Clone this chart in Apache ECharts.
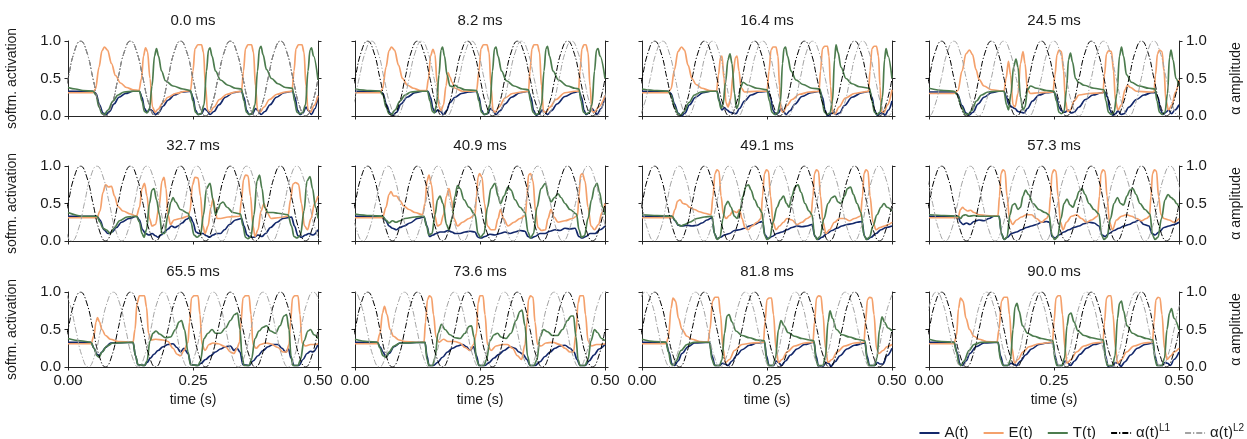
<!DOCTYPE html>
<html><head><meta charset="utf-8">
<script src="https://cdn.jsdelivr.net/npm/echarts/dist/echarts.min.js"></script>
<style>html,body{margin:0;padding:0;background:#fff}#c{width:1247px;height:439px}</style>
</head><body><div id="c"></div>
<script>
// ---------- data ----------
const titles = ['0.0 ms','8.2 ms','16.4 ms','24.5 ms','32.7 ms','40.9 ms','49.1 ms','57.3 ms','65.5 ms','73.6 ms','81.8 ms','90.0 ms'];
const delayS = [0,0.0082,0.0164,0.0245,0.0327,0.0409,0.0491,0.0573,0.0655,0.0736,0.0818,0.09];
const alphaT = [-0.1,-0.0875,-0.075,-0.0625,-0.05,-0.0375,-0.025,-0.0125,0,0.0125,0.025,0.0375,0.05,0.0625,0.075,0.0875,0.1,0.1125,0.125,0.1375,0.15,0.1625,0.175,0.1875,0.2,0.2125,0.225,0.2375,0.25,0.2625,0.275,0.2875,0.3,0.3125,0.325,0.3375,0.35,0.3625,0.375,0.3875,0.4,0.4125,0.425,0.4375,0.45,0.4625,0.475,0.4875,0.5];
const alphaV = [0.5,0.854,1,0.854,0.5,0.146,0,0.146, 0.5,0.854,1,0.854,0.5,0.146,0,0.146, 0.5,0.854,1,0.854,0.5,0.146,0,0.146, 0.5,0.854,1,0.854,0.5,0.146,0,0.146, 0.5,0.854,1,0.854,0.5,0.146,0,0.146, 0.5,0.854,1,0.854,0.5,0.146,0,0.146, 0.5];

// panel 0 (0.0 ms)
const E0=[[0,0.31],[0.05,0.31],[0.055,0.36],[0.062,0.65],[0.068,0.87],[0.073,0.92],[0.079,0.88],[0.087,0.7],[0.095,0.54],[0.105,0.44],[0.117,0.38],[0.13,0.35],[0.142,0.34],[0.147,0.5],[0.151,0.8],[0.155,0.91],[0.159,0.86],[0.164,0.5],[0.169,0.12],[0.174,0.05],[0.18,0.09],[0.19,0.18],[0.2,0.25],[0.215,0.3],[0.235,0.33],[0.245,0.34],[0.25,0.6],[0.254,0.9],[0.26,0.95],[0.267,0.95],[0.271,0.85],[0.275,0.4],[0.279,0.08],[0.284,0.05],[0.292,0.12],[0.303,0.22],[0.318,0.29],[0.335,0.32],[0.347,0.33],[0.351,0.6],[0.355,0.9],[0.36,0.95],[0.367,0.95],[0.371,0.85],[0.375,0.4],[0.379,0.08],[0.384,0.05],[0.392,0.12],[0.403,0.22],[0.418,0.29],[0.435,0.32],[0.448,0.33],[0.452,0.6],[0.456,0.9],[0.461,0.95],[0.468,0.95],[0.472,0.85],[0.476,0.4],[0.48,0.08],[0.485,0.05],[0.492,0.14],[0.5,0.27]];
const T0=[[0,0.38],[0.015,0.36],[0.03,0.34],[0.05,0.33],[0.056,0.28],[0.062,0.12],[0.068,0.03],[0.073,0.02],[0.08,0.08],[0.09,0.2],[0.1,0.28],[0.112,0.32],[0.13,0.33],[0.143,0.33],[0.148,0.2],[0.153,0.06],[0.158,0.04],[0.163,0.1],[0.168,0.4],[0.173,0.8],[0.177,0.9],[0.181,0.8],[0.187,0.6],[0.195,0.47],[0.21,0.4],[0.23,0.36],[0.245,0.34],[0.25,0.2],[0.255,0.05],[0.26,0.02],[0.266,0.03],[0.272,0.15],[0.277,0.6],[0.281,0.88],[0.284,0.91],[0.288,0.8],[0.295,0.6],[0.305,0.48],[0.32,0.41],[0.335,0.37],[0.347,0.36],[0.352,0.2],[0.357,0.05],[0.362,0.02],[0.368,0.03],[0.374,0.15],[0.379,0.6],[0.383,0.9],[0.386,0.93],[0.39,0.82],[0.397,0.62],[0.407,0.5],[0.42,0.43],[0.435,0.38],[0.449,0.37],[0.453,0.2],[0.458,0.05],[0.463,0.03],[0.469,0.04],[0.475,0.15],[0.48,0.6],[0.484,0.88],[0.487,0.91],[0.491,0.8],[0.5,0.48]];
const A0=[[0,0.33],[0.05,0.33],[0.056,0.3],[0.063,0.15],[0.07,0.04],[0.076,0.02],[0.083,0.06],[0.092,0.16],[0.102,0.25],[0.115,0.3],[0.13,0.33],[0.143,0.33],[0.148,0.25],[0.153,0.1],[0.158,0.05],[0.164,0.09],[0.169,0.07],[0.175,0.02],[0.182,0.05],[0.19,0.13],[0.2,0.21],[0.213,0.28],[0.228,0.32],[0.245,0.33],[0.25,0.25],[0.255,0.08],[0.26,0.02],[0.267,0.03],[0.273,0.1],[0.278,0.07],[0.284,0.02],[0.292,0.06],[0.302,0.15],[0.315,0.25],[0.33,0.31],[0.347,0.33],[0.352,0.25],[0.357,0.08],[0.362,0.02],[0.369,0.03],[0.375,0.1],[0.38,0.07],[0.386,0.02],[0.394,0.06],[0.404,0.15],[0.417,0.25],[0.432,0.31],[0.449,0.33],[0.454,0.25],[0.459,0.08],[0.464,0.02],[0.47,0.04],[0.476,0.12],[0.481,0.07],[0.487,0.02],[0.494,0.1],[0.5,0.27]];

// panel 1 (8.2 ms)
const E1=[[0,0.31],[0.05,0.31],[0.055,0.36],[0.062,0.65],[0.068,0.87],[0.073,0.92],[0.079,0.88],[0.087,0.68],[0.095,0.5],[0.105,0.41],[0.117,0.37],[0.13,0.34],[0.143,0.34],[0.147,0.5],[0.151,0.8],[0.156,0.89],[0.16,0.82],[0.164,0.45],[0.168,0.12],[0.172,0.07],[0.177,0.15],[0.182,0.4],[0.186,0.58],[0.19,0.52],[0.194,0.45],[0.2,0.37],[0.215,0.33],[0.243,0.33],[0.248,0.6],[0.252,0.9],[0.257,0.95],[0.264,0.95],[0.268,0.85],[0.272,0.4],[0.276,0.08],[0.28,0.05],[0.288,0.12],[0.3,0.24],[0.315,0.3],[0.333,0.32],[0.347,0.33],[0.35,0.6],[0.354,0.9],[0.358,0.95],[0.365,0.95],[0.369,0.85],[0.373,0.4],[0.377,0.06],[0.382,0.05],[0.39,0.12],[0.402,0.22],[0.42,0.31],[0.44,0.33],[0.447,0.33],[0.45,0.6],[0.454,0.9],[0.458,0.95],[0.462,0.95],[0.466,0.85],[0.47,0.4],[0.474,0.06],[0.479,0.05],[0.487,0.12],[0.5,0.27]];
const T1=[[0,0.36],[0.03,0.34],[0.05,0.33],[0.056,0.28],[0.062,0.12],[0.068,0.03],[0.073,0.02],[0.08,0.08],[0.09,0.2],[0.1,0.28],[0.112,0.32],[0.13,0.33],[0.145,0.33],[0.15,0.2],[0.155,0.06],[0.159,0.04],[0.163,0.15],[0.168,0.55],[0.172,0.88],[0.175,0.92],[0.179,0.8],[0.184,0.55],[0.19,0.4],[0.196,0.39],[0.2,0.41],[0.207,0.38],[0.22,0.35],[0.243,0.34],[0.248,0.2],[0.253,0.05],[0.258,0.02],[0.264,0.03],[0.27,0.15],[0.275,0.6],[0.279,0.9],[0.282,0.92],[0.286,0.8],[0.293,0.6],[0.303,0.47],[0.318,0.4],[0.335,0.36],[0.347,0.35],[0.351,0.2],[0.356,0.05],[0.361,0.02],[0.367,0.03],[0.373,0.15],[0.378,0.6],[0.382,0.9],[0.385,0.93],[0.389,0.8],[0.396,0.6],[0.407,0.48],[0.425,0.4],[0.44,0.37],[0.448,0.36],[0.452,0.2],[0.457,0.05],[0.462,0.03],[0.468,0.04],[0.474,0.15],[0.479,0.6],[0.483,0.88],[0.486,0.9],[0.49,0.8],[0.5,0.5]];
const A1=[[0,0.33],[0.05,0.33],[0.056,0.3],[0.063,0.15],[0.07,0.04],[0.076,0.01],[0.083,0.05],[0.092,0.16],[0.104,0.25],[0.12,0.31],[0.135,0.33],[0.146,0.33],[0.151,0.25],[0.156,0.1],[0.16,0.05],[0.166,0.08],[0.171,0.06],[0.177,0.02],[0.183,0.07],[0.19,0.18],[0.2,0.25],[0.213,0.3],[0.228,0.32],[0.243,0.33],[0.248,0.25],[0.253,0.08],[0.258,0.02],[0.265,0.03],[0.271,0.1],[0.276,0.07],[0.282,0.02],[0.29,0.07],[0.3,0.16],[0.313,0.25],[0.33,0.31],[0.347,0.33],[0.352,0.25],[0.357,0.08],[0.362,0.01],[0.369,0.03],[0.374,0.08],[0.379,0.06],[0.385,0.02],[0.393,0.07],[0.404,0.16],[0.42,0.26],[0.437,0.31],[0.448,0.33],[0.453,0.25],[0.458,0.08],[0.462,0.02],[0.468,0.04],[0.474,0.1],[0.479,0.06],[0.484,0.02],[0.492,0.1],[0.5,0.27]];

// panel 2 (16.4 ms)
const E2=[[0,0.31],[0.052,0.31],[0.058,0.36],[0.065,0.62],[0.072,0.86],[0.079,0.92],[0.085,0.88],[0.092,0.68],[0.1,0.5],[0.108,0.42],[0.12,0.37],[0.135,0.34],[0.149,0.33],[0.153,0.55],[0.157,0.78],[0.16,0.8],[0.164,0.5],[0.168,0.18],[0.172,0.12],[0.177,0.22],[0.182,0.55],[0.187,0.78],[0.19,0.8],[0.194,0.6],[0.198,0.38],[0.205,0.32],[0.23,0.33],[0.25,0.33],[0.254,0.6],[0.258,0.88],[0.262,0.92],[0.268,0.92],[0.272,0.8],[0.275,0.4],[0.278,0.08],[0.282,0.05],[0.29,0.14],[0.3,0.22],[0.315,0.29],[0.335,0.32],[0.354,0.33],[0.357,0.6],[0.361,0.9],[0.365,0.93],[0.371,0.93],[0.374,0.8],[0.377,0.4],[0.381,0.04],[0.386,0.03],[0.394,0.12],[0.407,0.24],[0.425,0.3],[0.443,0.32],[0.453,0.33],[0.456,0.6],[0.46,0.9],[0.464,0.93],[0.469,0.93],[0.473,0.8],[0.476,0.4],[0.479,0.06],[0.484,0.05],[0.491,0.15],[0.5,0.35]];
const T2=[[0,0.36],[0.03,0.34],[0.052,0.33],[0.058,0.28],[0.065,0.12],[0.072,0.03],[0.077,0.01],[0.084,0.06],[0.094,0.18],[0.105,0.28],[0.118,0.32],[0.136,0.33],[0.15,0.33],[0.154,0.2],[0.158,0.1],[0.162,0.15],[0.167,0.45],[0.172,0.75],[0.176,0.83],[0.18,0.7],[0.185,0.3],[0.189,0.1],[0.193,0.15],[0.197,0.38],[0.202,0.45],[0.212,0.41],[0.23,0.37],[0.25,0.35],[0.255,0.2],[0.26,0.05],[0.265,0.02],[0.271,0.04],[0.277,0.2],[0.281,0.7],[0.284,0.9],[0.287,0.92],[0.291,0.8],[0.298,0.6],[0.308,0.48],[0.322,0.42],[0.34,0.37],[0.356,0.36],[0.36,0.2],[0.365,0.05],[0.37,0.02],[0.376,0.04],[0.381,0.2],[0.385,0.75],[0.388,0.95],[0.392,0.85],[0.398,0.65],[0.408,0.5],[0.42,0.43],[0.435,0.39],[0.455,0.37],[0.46,0.2],[0.465,0.05],[0.47,0.02],[0.476,0.05],[0.481,0.25],[0.485,0.75],[0.488,0.9],[0.492,0.8],[0.5,0.5]];
const A2=[[0,0.33],[0.052,0.33],[0.058,0.3],[0.065,0.16],[0.072,0.04],[0.079,0.0],[0.086,0.04],[0.095,0.15],[0.107,0.25],[0.122,0.31],[0.137,0.33],[0.15,0.33],[0.155,0.2],[0.16,0.08],[0.165,0.11],[0.17,0.08],[0.176,0.05],[0.182,0.04],[0.188,0.03],[0.195,0.1],[0.205,0.2],[0.218,0.28],[0.235,0.32],[0.252,0.33],[0.257,0.25],[0.262,0.08],[0.267,0.02],[0.273,0.04],[0.278,0.1],[0.283,0.06],[0.288,0.02],[0.296,0.07],[0.306,0.16],[0.32,0.26],[0.338,0.31],[0.356,0.33],[0.361,0.25],[0.366,0.08],[0.371,0.0],[0.378,0.03],[0.383,0.06],[0.388,0.02],[0.395,0.04],[0.405,0.14],[0.42,0.25],[0.44,0.31],[0.455,0.33],[0.46,0.25],[0.465,0.08],[0.47,0.01],[0.476,0.03],[0.481,0.05],[0.486,0.01],[0.493,0.08],[0.5,0.2]];

// panel 3 (24.5 ms)
const E3=[[0,0.3],[0.05,0.3],[0.058,0.34],[0.066,0.6],[0.074,0.83],[0.081,0.88],[0.087,0.82],[0.094,0.62],[0.1,0.49],[0.11,0.4],[0.125,0.35],[0.15,0.33],[0.154,0.5],[0.159,0.73],[0.163,0.55],[0.168,0.15],[0.172,0.12],[0.178,0.3],[0.183,0.7],[0.188,0.86],[0.192,0.7],[0.197,0.35],[0.203,0.3],[0.22,0.31],[0.248,0.32],[0.252,0.55],[0.256,0.82],[0.26,0.88],[0.265,0.86],[0.269,0.6],[0.273,0.2],[0.277,0.06],[0.283,0.08],[0.29,0.2],[0.3,0.28],[0.32,0.3],[0.348,0.31],[0.351,0.55],[0.355,0.83],[0.359,0.87],[0.365,0.86],[0.369,0.6],[0.373,0.2],[0.378,0.08],[0.385,0.15],[0.392,0.35],[0.397,0.41],[0.403,0.38],[0.415,0.33],[0.44,0.32],[0.45,0.32],[0.453,0.55],[0.457,0.83],[0.461,0.88],[0.466,0.86],[0.47,0.6],[0.474,0.2],[0.479,0.08],[0.486,0.15],[0.493,0.32],[0.5,0.48]];
const T3=[[0,0.37],[0.03,0.34],[0.05,0.33],[0.057,0.28],[0.065,0.12],[0.072,0.03],[0.078,0.02],[0.085,0.07],[0.095,0.2],[0.105,0.28],[0.118,0.32],[0.135,0.33],[0.15,0.33],[0.155,0.15],[0.159,0.08],[0.164,0.3],[0.169,0.65],[0.174,0.76],[0.178,0.65],[0.183,0.25],[0.188,0.08],[0.192,0.12],[0.197,0.35],[0.203,0.4],[0.215,0.37],[0.235,0.34],[0.25,0.33],[0.255,0.2],[0.26,0.05],[0.265,0.03],[0.27,0.06],[0.275,0.35],[0.279,0.75],[0.283,0.84],[0.287,0.72],[0.293,0.5],[0.299,0.45],[0.31,0.41],[0.33,0.37],[0.35,0.35],[0.354,0.2],[0.359,0.05],[0.364,0.02],[0.37,0.05],[0.376,0.3],[0.381,0.8],[0.385,0.92],[0.389,0.8],[0.395,0.55],[0.405,0.45],[0.42,0.4],[0.44,0.37],[0.452,0.36],[0.456,0.2],[0.461,0.05],[0.466,0.02],[0.472,0.05],[0.477,0.3],[0.481,0.78],[0.484,0.88],[0.488,0.75],[0.494,0.5],[0.5,0.4]];
const A3=[[0,0.32],[0.05,0.32],[0.057,0.29],[0.066,0.14],[0.074,0.04],[0.08,0.01],[0.088,0.05],[0.098,0.16],[0.11,0.25],[0.125,0.31],[0.14,0.33],[0.15,0.33],[0.155,0.25],[0.16,0.15],[0.166,0.12],[0.172,0.1],[0.178,0.06],[0.184,0.05],[0.19,0.04],[0.197,0.1],[0.207,0.2],[0.22,0.28],[0.235,0.31],[0.25,0.32],[0.255,0.25],[0.26,0.12],[0.265,0.07],[0.272,0.05],[0.278,0.08],[0.284,0.04],[0.29,0.05],[0.3,0.12],[0.313,0.22],[0.328,0.28],[0.345,0.31],[0.352,0.32],[0.357,0.25],[0.362,0.08],[0.367,0.01],[0.373,0.03],[0.378,0.07],[0.384,0.02],[0.39,0.03],[0.4,0.12],[0.415,0.22],[0.43,0.28],[0.445,0.31],[0.453,0.31],[0.458,0.25],[0.463,0.08],[0.468,0.02],[0.474,0.05],[0.479,0.08],[0.485,0.03],[0.492,0.08],[0.5,0.15]];

// panel 4 (32.7 ms)
const E4=[[0,0.31],[0.058,0.31],[0.064,0.4],[0.07,0.65],[0.075,0.75],[0.081,0.72],[0.087,0.73],[0.093,0.6],[0.1,0.46],[0.11,0.4],[0.125,0.36],[0.137,0.33],[0.143,0.45],[0.148,0.7],[0.153,0.77],[0.158,0.6],[0.163,0.3],[0.168,0.2],[0.175,0.22],[0.182,0.45],[0.188,0.8],[0.192,0.85],[0.196,0.7],[0.2,0.35],[0.205,0.22],[0.212,0.28],[0.225,0.3],[0.24,0.33],[0.244,0.4],[0.249,0.75],[0.254,0.85],[0.26,0.84],[0.265,0.6],[0.27,0.2],[0.274,0.1],[0.28,0.2],[0.286,0.45],[0.29,0.56],[0.294,0.45],[0.298,0.3],[0.305,0.3],[0.32,0.32],[0.343,0.33],[0.347,0.55],[0.351,0.82],[0.355,0.88],[0.36,0.87],[0.365,0.6],[0.37,0.2],[0.374,0.06],[0.38,0.15],[0.386,0.4],[0.392,0.5],[0.398,0.38],[0.406,0.3],[0.42,0.31],[0.44,0.33],[0.445,0.55],[0.45,0.76],[0.455,0.78],[0.461,0.76],[0.467,0.5],[0.473,0.2],[0.479,0.15],[0.486,0.3],[0.493,0.5],[0.5,0.6]];
const T4=[[0,0.38],[0.03,0.33],[0.058,0.33],[0.064,0.25],[0.07,0.17],[0.076,0.15],[0.085,0.1],[0.093,0.18],[0.103,0.27],[0.118,0.32],[0.137,0.33],[0.143,0.25],[0.148,0.1],[0.152,0.05],[0.157,0.15],[0.163,0.5],[0.168,0.68],[0.172,0.7],[0.177,0.55],[0.183,0.35],[0.188,0.1],[0.193,0.1],[0.2,0.35],[0.206,0.52],[0.21,0.58],[0.215,0.52],[0.225,0.42],[0.24,0.37],[0.246,0.25],[0.252,0.08],[0.258,0.05],[0.265,0.08],[0.271,0.35],[0.277,0.7],[0.284,0.77],[0.29,0.55],[0.295,0.35],[0.3,0.42],[0.305,0.5],[0.31,0.52],[0.318,0.45],[0.33,0.38],[0.345,0.36],[0.35,0.2],[0.355,0.05],[0.36,0.03],[0.366,0.06],[0.372,0.35],[0.378,0.8],[0.383,0.88],[0.388,0.7],[0.393,0.45],[0.4,0.38],[0.41,0.38],[0.42,0.37],[0.44,0.35],[0.447,0.2],[0.452,0.06],[0.458,0.04],[0.465,0.08],[0.472,0.4],[0.478,0.8],[0.484,0.86],[0.489,0.7],[0.495,0.45],[0.5,0.3]];
const A4=[[0,0.33],[0.058,0.33],[0.064,0.28],[0.072,0.15],[0.08,0.1],[0.088,0.12],[0.097,0.18],[0.107,0.25],[0.122,0.3],[0.137,0.33],[0.143,0.28],[0.149,0.15],[0.155,0.1],[0.162,0.08],[0.168,0.1],[0.175,0.07],[0.18,0.05],[0.186,0.08],[0.193,0.12],[0.2,0.16],[0.207,0.2],[0.214,0.18],[0.22,0.2],[0.228,0.24],[0.237,0.29],[0.245,0.32],[0.25,0.25],[0.256,0.12],[0.262,0.1],[0.27,0.1],[0.277,0.07],[0.283,0.05],[0.29,0.08],[0.297,0.1],[0.305,0.1],[0.313,0.15],[0.323,0.22],[0.335,0.28],[0.347,0.3],[0.352,0.2],[0.358,0.08],[0.364,0.05],[0.372,0.05],[0.38,0.08],[0.388,0.06],[0.395,0.1],[0.405,0.18],[0.418,0.25],[0.43,0.3],[0.447,0.32],[0.453,0.2],[0.46,0.07],[0.467,0.05],[0.475,0.08],[0.482,0.1],[0.49,0.08],[0.5,0.15]];

// panel 5 (40.9 ms)
const E5=[[0,0.31],[0.055,0.31],[0.062,0.45],[0.068,0.62],[0.072,0.66],[0.077,0.6],[0.083,0.6],[0.09,0.54],[0.097,0.47],[0.108,0.42],[0.12,0.38],[0.135,0.35],[0.14,0.5],[0.144,0.8],[0.148,0.88],[0.153,0.75],[0.159,0.35],[0.165,0.2],[0.171,0.22],[0.177,0.35],[0.183,0.6],[0.188,0.7],[0.193,0.55],[0.198,0.3],[0.205,0.2],[0.215,0.25],[0.228,0.3],[0.24,0.35],[0.243,0.6],[0.246,0.85],[0.249,0.9],[0.254,0.85],[0.259,0.5],[0.265,0.2],[0.272,0.15],[0.28,0.15],[0.286,0.3],[0.291,0.42],[0.297,0.3],[0.306,0.2],[0.318,0.25],[0.33,0.3],[0.341,0.34],[0.344,0.6],[0.347,0.88],[0.351,0.9],[0.356,0.8],[0.361,0.4],[0.366,0.18],[0.373,0.14],[0.381,0.15],[0.386,0.3],[0.392,0.42],[0.398,0.32],[0.406,0.25],[0.42,0.27],[0.435,0.3],[0.445,0.34],[0.448,0.6],[0.451,0.88],[0.455,0.9],[0.46,0.8],[0.466,0.45],[0.472,0.2],[0.479,0.15],[0.487,0.22],[0.494,0.38],[0.5,0.5]];
const T5=[[0,0.36],[0.03,0.34],[0.055,0.33],[0.062,0.28],[0.068,0.24],[0.075,0.27],[0.082,0.25],[0.09,0.27],[0.1,0.3],[0.12,0.32],[0.138,0.33],[0.143,0.2],[0.148,0.08],[0.154,0.1],[0.16,0.35],[0.165,0.55],[0.17,0.6],[0.176,0.5],[0.183,0.22],[0.188,0.15],[0.194,0.3],[0.2,0.6],[0.205,0.74],[0.21,0.7],[0.218,0.55],[0.228,0.45],[0.24,0.35],[0.246,0.1],[0.251,0.05],[0.258,0.1],[0.265,0.45],[0.272,0.7],[0.28,0.77],[0.286,0.6],[0.291,0.5],[0.298,0.6],[0.306,0.72],[0.312,0.68],[0.32,0.55],[0.33,0.45],[0.34,0.38],[0.346,0.12],[0.351,0.04],[0.357,0.1],[0.364,0.45],[0.372,0.7],[0.381,0.77],[0.387,0.6],[0.392,0.52],[0.399,0.58],[0.406,0.63],[0.412,0.58],[0.42,0.5],[0.43,0.42],[0.443,0.36],[0.448,0.15],[0.453,0.05],[0.459,0.07],[0.466,0.3],[0.473,0.55],[0.479,0.72],[0.484,0.77],[0.489,0.65],[0.495,0.45],[0.5,0.35]];
const A5=[[0,0.33],[0.055,0.33],[0.062,0.27],[0.068,0.2],[0.075,0.17],[0.083,0.15],[0.09,0.18],[0.098,0.2],[0.11,0.24],[0.125,0.3],[0.138,0.32],[0.144,0.2],[0.149,0.06],[0.156,0.08],[0.162,0.1],[0.17,0.12],[0.178,0.12],[0.186,0.14],[0.194,0.12],[0.2,0.1],[0.21,0.1],[0.22,0.12],[0.23,0.13],[0.24,0.12],[0.246,0.05],[0.252,0.04],[0.26,0.06],[0.27,0.09],[0.28,0.08],[0.29,0.1],[0.3,0.12],[0.31,0.1],[0.32,0.12],[0.33,0.14],[0.34,0.13],[0.346,0.06],[0.352,0.04],[0.36,0.06],[0.37,0.1],[0.38,0.1],[0.39,0.13],[0.4,0.15],[0.41,0.14],[0.42,0.17],[0.43,0.16],[0.44,0.17],[0.448,0.06],[0.454,0.04],[0.462,0.06],[0.47,0.1],[0.48,0.1],[0.49,0.15],[0.5,0.2]];

// panel 6 (49.1 ms)
const E6=[[0,0.31],[0.06,0.31],[0.066,0.42],[0.071,0.53],[0.076,0.55],[0.082,0.5],[0.088,0.49],[0.095,0.45],[0.105,0.42],[0.115,0.39],[0.125,0.37],[0.138,0.35],[0.142,0.6],[0.146,0.9],[0.15,0.95],[0.154,0.93],[0.158,0.6],[0.163,0.35],[0.168,0.3],[0.175,0.34],[0.182,0.4],[0.19,0.38],[0.195,0.42],[0.2,0.3],[0.206,0.18],[0.212,0.15],[0.22,0.2],[0.23,0.25],[0.238,0.3],[0.241,0.6],[0.245,0.9],[0.249,0.95],[0.253,0.93],[0.257,0.6],[0.262,0.25],[0.268,0.15],[0.275,0.2],[0.283,0.25],[0.29,0.3],[0.3,0.28],[0.31,0.22],[0.32,0.25],[0.33,0.3],[0.338,0.33],[0.342,0.6],[0.345,0.9],[0.349,0.95],[0.353,0.93],[0.357,0.6],[0.362,0.25],[0.368,0.1],[0.375,0.15],[0.385,0.25],[0.395,0.3],[0.405,0.3],[0.415,0.27],[0.425,0.3],[0.437,0.33],[0.441,0.6],[0.444,0.9],[0.448,0.95],[0.452,0.93],[0.456,0.6],[0.462,0.25],[0.468,0.15],[0.476,0.18],[0.485,0.2],[0.493,0.22],[0.5,0.25]];
const T6=[[0,0.35],[0.03,0.34],[0.06,0.33],[0.066,0.28],[0.072,0.22],[0.078,0.2],[0.085,0.22],[0.095,0.25],[0.11,0.3],[0.125,0.32],[0.14,0.33],[0.145,0.1],[0.15,0.02],[0.156,0.05],[0.162,0.3],[0.167,0.48],[0.172,0.53],[0.178,0.45],[0.185,0.33],[0.19,0.3],[0.196,0.4],[0.202,0.6],[0.208,0.73],[0.213,0.75],[0.218,0.68],[0.225,0.55],[0.233,0.45],[0.24,0.38],[0.245,0.08],[0.25,0.02],[0.256,0.05],[0.262,0.25],[0.27,0.45],[0.277,0.55],[0.283,0.6],[0.289,0.5],[0.294,0.45],[0.3,0.6],[0.306,0.72],[0.312,0.75],[0.318,0.65],[0.326,0.5],[0.334,0.4],[0.34,0.35],[0.345,0.08],[0.35,0.02],[0.356,0.06],[0.364,0.3],[0.372,0.5],[0.38,0.58],[0.386,0.6],[0.392,0.52],[0.398,0.5],[0.405,0.6],[0.411,0.7],[0.417,0.72],[0.423,0.62],[0.43,0.5],[0.438,0.38],[0.444,0.08],[0.449,0.02],[0.455,0.05],[0.462,0.2],[0.47,0.35],[0.478,0.45],[0.484,0.5],[0.49,0.45],[0.5,0.4]];
const A6=[[0,0.33],[0.06,0.33],[0.066,0.27],[0.073,0.21],[0.08,0.2],[0.09,0.21],[0.1,0.2],[0.11,0.21],[0.12,0.24],[0.13,0.28],[0.14,0.31],[0.145,0.1],[0.15,0.03],[0.157,0.05],[0.165,0.08],[0.175,0.1],[0.185,0.14],[0.195,0.15],[0.205,0.17],[0.215,0.2],[0.225,0.22],[0.235,0.25],[0.241,0.26],[0.246,0.08],[0.252,0.03],[0.26,0.06],[0.27,0.1],[0.28,0.12],[0.29,0.15],[0.3,0.18],[0.31,0.2],[0.32,0.19],[0.33,0.2],[0.34,0.22],[0.346,0.06],[0.352,0.02],[0.36,0.05],[0.37,0.1],[0.38,0.14],[0.39,0.17],[0.4,0.2],[0.41,0.22],[0.42,0.23],[0.43,0.25],[0.44,0.26],[0.445,0.06],[0.45,0.02],[0.458,0.05],[0.468,0.1],[0.478,0.15],[0.488,0.18],[0.5,0.2]];

// panel 7 (57.3 ms)
const E7=[[0,0.31],[0.058,0.31],[0.063,0.42],[0.067,0.45],[0.072,0.42],[0.077,0.4],[0.083,0.41],[0.09,0.38],[0.1,0.35],[0.115,0.34],[0.13,0.33],[0.138,0.34],[0.141,0.6],[0.144,0.9],[0.148,0.95],[0.152,0.93],[0.156,0.6],[0.161,0.3],[0.167,0.22],[0.175,0.28],[0.185,0.32],[0.195,0.35],[0.205,0.35],[0.215,0.3],[0.225,0.25],[0.235,0.3],[0.24,0.35],[0.243,0.6],[0.246,0.9],[0.25,0.95],[0.254,0.93],[0.258,0.6],[0.263,0.25],[0.268,0.15],[0.275,0.25],[0.285,0.33],[0.295,0.35],[0.305,0.3],[0.315,0.25],[0.325,0.28],[0.337,0.33],[0.341,0.6],[0.344,0.9],[0.348,0.95],[0.352,0.93],[0.356,0.6],[0.361,0.25],[0.367,0.15],[0.375,0.28],[0.385,0.33],[0.395,0.35],[0.405,0.33],[0.415,0.3],[0.425,0.27],[0.435,0.3],[0.441,0.33],[0.444,0.6],[0.447,0.9],[0.451,0.95],[0.455,0.93],[0.459,0.6],[0.464,0.35],[0.47,0.3],[0.48,0.28],[0.49,0.25],[0.5,0.3]];
const T7=[[0,0.35],[0.03,0.34],[0.058,0.33],[0.063,0.3],[0.068,0.34],[0.073,0.35],[0.08,0.33],[0.09,0.34],[0.1,0.33],[0.12,0.33],[0.14,0.33],[0.145,0.1],[0.15,0.02],[0.156,0.05],[0.162,0.35],[0.167,0.48],[0.172,0.5],[0.178,0.42],[0.183,0.45],[0.188,0.6],[0.193,0.68],[0.199,0.62],[0.208,0.5],[0.22,0.42],[0.232,0.38],[0.24,0.35],[0.246,0.08],[0.251,0.02],[0.257,0.05],[0.264,0.3],[0.27,0.5],[0.276,0.56],[0.282,0.48],[0.288,0.45],[0.294,0.55],[0.3,0.66],[0.306,0.7],[0.312,0.62],[0.32,0.5],[0.33,0.42],[0.34,0.36],[0.345,0.08],[0.35,0.02],[0.356,0.05],[0.363,0.3],[0.37,0.5],[0.377,0.58],[0.383,0.5],[0.389,0.48],[0.396,0.6],[0.402,0.68],[0.408,0.7],[0.414,0.62],[0.422,0.5],[0.432,0.42],[0.442,0.36],[0.447,0.08],[0.452,0.02],[0.458,0.05],[0.465,0.3],[0.472,0.55],[0.478,0.62],[0.484,0.58],[0.49,0.55],[0.495,0.5],[0.5,0.45]];
const A7=[[0,0.33],[0.058,0.33],[0.063,0.25],[0.068,0.22],[0.075,0.24],[0.082,0.22],[0.09,0.26],[0.1,0.28],[0.11,0.27],[0.12,0.3],[0.13,0.33],[0.14,0.33],[0.145,0.1],[0.15,0.02],[0.157,0.05],[0.165,0.1],[0.175,0.12],[0.185,0.15],[0.195,0.18],[0.205,0.2],[0.215,0.22],[0.225,0.25],[0.235,0.26],[0.241,0.25],[0.246,0.06],[0.252,0.04],[0.26,0.08],[0.27,0.12],[0.28,0.15],[0.29,0.18],[0.3,0.2],[0.31,0.23],[0.32,0.25],[0.33,0.24],[0.34,0.2],[0.346,0.08],[0.352,0.06],[0.36,0.1],[0.37,0.14],[0.38,0.17],[0.39,0.2],[0.4,0.22],[0.41,0.25],[0.42,0.28],[0.43,0.22],[0.44,0.2],[0.446,0.1],[0.452,0.08],[0.46,0.12],[0.47,0.18],[0.48,0.2],[0.49,0.22],[0.5,0.25]];

// panel 8 (65.5 ms)
const E8=[[0,0.31],[0.046,0.31],[0.052,0.42],[0.056,0.6],[0.059,0.66],[0.063,0.6],[0.068,0.5],[0.075,0.42],[0.085,0.37],[0.1,0.34],[0.13,0.33],[0.134,0.5],[0.138,0.85],[0.143,0.95],[0.153,0.95],[0.157,0.8],[0.161,0.45],[0.166,0.36],[0.175,0.37],[0.19,0.36],[0.2,0.34],[0.21,0.25],[0.218,0.17],[0.225,0.15],[0.232,0.22],[0.24,0.33],[0.243,0.6],[0.247,0.92],[0.252,0.95],[0.26,0.95],[0.264,0.7],[0.268,0.3],[0.274,0.22],[0.282,0.3],[0.29,0.32],[0.3,0.31],[0.315,0.27],[0.325,0.2],[0.332,0.18],[0.338,0.25],[0.343,0.33],[0.346,0.6],[0.35,0.92],[0.355,0.95],[0.362,0.95],[0.366,0.7],[0.37,0.3],[0.376,0.25],[0.385,0.3],[0.395,0.32],[0.405,0.31],[0.42,0.26],[0.43,0.2],[0.437,0.2],[0.442,0.3],[0.445,0.6],[0.449,0.92],[0.453,0.95],[0.46,0.95],[0.464,0.7],[0.468,0.32],[0.475,0.28],[0.485,0.3],[0.495,0.3],[0.5,0.31]];
const T8=[[0,0.38],[0.025,0.35],[0.046,0.33],[0.052,0.25],[0.058,0.15],[0.062,0.13],[0.068,0.2],[0.078,0.28],[0.09,0.32],[0.13,0.33],[0.135,0.15],[0.14,0.03],[0.153,0.02],[0.158,0.08],[0.164,0.35],[0.17,0.45],[0.176,0.48],[0.183,0.44],[0.195,0.39],[0.205,0.4],[0.215,0.5],[0.222,0.6],[0.227,0.62],[0.233,0.5],[0.24,0.2],[0.245,0.03],[0.26,0.02],[0.265,0.08],[0.272,0.38],[0.28,0.45],[0.288,0.5],[0.295,0.45],[0.305,0.45],[0.315,0.52],[0.325,0.62],[0.333,0.7],[0.339,0.72],[0.344,0.5],[0.348,0.15],[0.352,0.02],[0.362,0.02],[0.367,0.1],[0.374,0.38],[0.382,0.48],[0.39,0.53],[0.397,0.55],[0.405,0.48],[0.415,0.45],[0.424,0.55],[0.432,0.68],[0.437,0.7],[0.442,0.5],[0.446,0.15],[0.45,0.02],[0.46,0.02],[0.465,0.1],[0.472,0.35],[0.48,0.48],[0.485,0.5],[0.492,0.43],[0.5,0.38]];
const A8=[[0,0.33],[0.046,0.33],[0.052,0.25],[0.058,0.17],[0.062,0.15],[0.068,0.2],[0.075,0.26],[0.085,0.32],[0.13,0.33],[0.135,0.15],[0.14,0.03],[0.153,0.02],[0.158,0.06],[0.165,0.12],[0.172,0.17],[0.18,0.22],[0.19,0.27],[0.2,0.3],[0.21,0.31],[0.218,0.26],[0.225,0.2],[0.232,0.25],[0.24,0.18],[0.246,0.03],[0.26,0.02],[0.266,0.05],[0.275,0.1],[0.285,0.15],[0.295,0.2],[0.305,0.24],[0.315,0.27],[0.325,0.28],[0.332,0.22],[0.338,0.25],[0.344,0.2],[0.35,0.03],[0.362,0.02],[0.37,0.08],[0.38,0.15],[0.39,0.22],[0.4,0.27],[0.41,0.3],[0.42,0.3],[0.428,0.25],[0.435,0.2],[0.441,0.24],[0.446,0.12],[0.452,0.02],[0.462,0.02],[0.47,0.1],[0.478,0.18],[0.485,0.21],[0.49,0.2],[0.5,0.3]];

// panel 9 (73.6 ms)
const E9=[[0,0.31],[0.044,0.31],[0.05,0.45],[0.055,0.72],[0.059,0.81],[0.064,0.7],[0.07,0.5],[0.077,0.41],[0.088,0.36],[0.1,0.34],[0.12,0.33],[0.138,0.33],[0.141,0.6],[0.145,0.9],[0.149,0.95],[0.153,0.93],[0.157,0.7],[0.162,0.4],[0.168,0.33],[0.177,0.37],[0.186,0.34],[0.2,0.34],[0.21,0.32],[0.22,0.26],[0.23,0.22],[0.237,0.3],[0.243,0.45],[0.246,0.85],[0.25,0.95],[0.256,0.95],[0.26,0.7],[0.265,0.3],[0.272,0.22],[0.282,0.28],[0.295,0.3],[0.305,0.3],[0.315,0.25],[0.325,0.15],[0.333,0.1],[0.34,0.3],[0.344,0.6],[0.347,0.9],[0.351,0.95],[0.356,0.93],[0.36,0.6],[0.365,0.3],[0.372,0.28],[0.382,0.32],[0.395,0.33],[0.41,0.3],[0.42,0.25],[0.43,0.2],[0.437,0.2],[0.442,0.45],[0.446,0.85],[0.45,0.95],[0.457,0.95],[0.461,0.7],[0.466,0.35],[0.473,0.28],[0.483,0.3],[0.493,0.3],[0.5,0.31]];
const T9=[[0,0.37],[0.025,0.34],[0.045,0.33],[0.05,0.25],[0.056,0.15],[0.062,0.13],[0.068,0.2],[0.078,0.28],[0.09,0.32],[0.14,0.33],[0.144,0.1],[0.148,0.02],[0.155,0.02],[0.16,0.12],[0.166,0.45],[0.173,0.57],[0.18,0.5],[0.19,0.43],[0.2,0.39],[0.21,0.38],[0.22,0.45],[0.228,0.54],[0.233,0.55],[0.238,0.4],[0.243,0.1],[0.248,0.02],[0.258,0.02],[0.263,0.1],[0.27,0.35],[0.278,0.43],[0.285,0.45],[0.292,0.4],[0.302,0.38],[0.312,0.45],[0.322,0.62],[0.33,0.74],[0.334,0.76],[0.34,0.55],[0.345,0.15],[0.35,0.02],[0.358,0.02],[0.364,0.1],[0.37,0.4],[0.377,0.5],[0.385,0.47],[0.395,0.42],[0.405,0.42],[0.415,0.5],[0.425,0.62],[0.432,0.68],[0.437,0.68],[0.442,0.4],[0.446,0.1],[0.45,0.02],[0.46,0.02],[0.466,0.1],[0.472,0.35],[0.479,0.5],[0.485,0.46],[0.493,0.38],[0.5,0.35]];
const A9=[[0,0.33],[0.045,0.33],[0.05,0.27],[0.056,0.2],[0.062,0.13],[0.068,0.18],[0.078,0.27],[0.09,0.32],[0.14,0.33],[0.144,0.15],[0.148,0.02],[0.157,0.02],[0.165,0.06],[0.175,0.13],[0.185,0.2],[0.195,0.25],[0.205,0.28],[0.215,0.3],[0.223,0.27],[0.23,0.22],[0.237,0.27],[0.243,0.15],[0.248,0.02],[0.26,0.02],[0.268,0.06],[0.278,0.12],[0.288,0.17],[0.298,0.22],[0.31,0.27],[0.32,0.25],[0.328,0.2],[0.336,0.17],[0.344,0.1],[0.35,0.02],[0.36,0.02],[0.37,0.07],[0.38,0.14],[0.39,0.2],[0.4,0.25],[0.41,0.28],[0.42,0.29],[0.43,0.25],[0.438,0.2],[0.444,0.1],[0.45,0.02],[0.46,0.02],[0.468,0.08],[0.478,0.16],[0.488,0.24],[0.5,0.3]];

// panel 10 (81.8 ms)
const E10=[[0,0.31],[0.048,0.31],[0.053,0.4],[0.058,0.78],[0.062,0.92],[0.067,0.88],[0.073,0.65],[0.08,0.5],[0.09,0.41],[0.1,0.37],[0.115,0.34],[0.132,0.33],[0.136,0.5],[0.141,0.88],[0.146,0.93],[0.153,0.93],[0.157,0.7],[0.162,0.25],[0.167,0.06],[0.175,0.1],[0.185,0.22],[0.2,0.3],[0.22,0.32],[0.243,0.33],[0.246,0.6],[0.25,0.9],[0.254,0.92],[0.259,0.92],[0.263,0.7],[0.268,0.25],[0.273,0.06],[0.28,0.1],[0.29,0.2],[0.305,0.28],[0.325,0.32],[0.342,0.33],[0.345,0.6],[0.349,0.92],[0.353,0.95],[0.358,0.94],[0.362,0.7],[0.367,0.25],[0.372,0.06],[0.38,0.1],[0.39,0.2],[0.405,0.28],[0.425,0.32],[0.444,0.33],[0.447,0.6],[0.451,0.9],[0.455,0.93],[0.46,0.92],[0.464,0.7],[0.469,0.25],[0.474,0.18],[0.482,0.22],[0.49,0.27],[0.5,0.3]];
const T10=[[0,0.37],[0.025,0.34],[0.048,0.33],[0.053,0.2],[0.058,0.04],[0.062,0.02],[0.068,0.08],[0.078,0.22],[0.09,0.3],[0.105,0.33],[0.135,0.33],[0.14,0.1],[0.145,0.02],[0.155,0.02],[0.16,0.1],[0.165,0.45],[0.17,0.68],[0.174,0.7],[0.18,0.6],[0.188,0.48],[0.2,0.42],[0.215,0.39],[0.23,0.36],[0.245,0.35],[0.249,0.1],[0.253,0.02],[0.262,0.02],[0.267,0.12],[0.273,0.5],[0.278,0.62],[0.284,0.55],[0.292,0.46],[0.305,0.41],[0.32,0.38],[0.335,0.36],[0.344,0.35],[0.348,0.1],[0.352,0.02],[0.362,0.02],[0.367,0.15],[0.372,0.6],[0.376,0.75],[0.381,0.65],[0.389,0.5],[0.4,0.43],[0.415,0.4],[0.43,0.37],[0.446,0.35],[0.45,0.1],[0.454,0.02],[0.465,0.02],[0.47,0.12],[0.475,0.5],[0.48,0.67],[0.485,0.6],[0.492,0.52],[0.5,0.48]];
const A10=[[0,0.33],[0.048,0.33],[0.054,0.2],[0.06,0.04],[0.065,0.02],[0.072,0.08],[0.08,0.18],[0.092,0.27],[0.105,0.32],[0.135,0.33],[0.14,0.15],[0.146,0.02],[0.155,0.02],[0.161,0.05],[0.166,0.04],[0.172,0.02],[0.18,0.08],[0.19,0.16],[0.2,0.23],[0.215,0.29],[0.23,0.32],[0.245,0.33],[0.249,0.15],[0.254,0.02],[0.263,0.02],[0.268,0.08],[0.273,0.06],[0.279,0.02],[0.287,0.08],[0.297,0.16],[0.31,0.24],[0.325,0.3],[0.344,0.33],[0.348,0.15],[0.353,0.01],[0.362,0.01],[0.368,0.06],[0.373,0.05],[0.378,0.01],[0.386,0.07],[0.396,0.15],[0.41,0.24],[0.425,0.29],[0.446,0.32],[0.45,0.15],[0.455,0.02],[0.465,0.02],[0.471,0.06],[0.476,0.04],[0.482,0.04],[0.49,0.15],[0.5,0.25]];

// panel 11 (90.0 ms)
const E11=[[0,0.31],[0.05,0.31],[0.055,0.42],[0.059,0.78],[0.063,0.92],[0.068,0.88],[0.074,0.65],[0.081,0.5],[0.09,0.41],[0.1,0.37],[0.115,0.34],[0.136,0.33],[0.14,0.5],[0.145,0.88],[0.15,0.93],[0.157,0.93],[0.161,0.7],[0.166,0.25],[0.171,0.05],[0.178,0.1],[0.188,0.2],[0.2,0.27],[0.22,0.31],[0.247,0.33],[0.25,0.6],[0.254,0.92],[0.258,0.95],[0.263,0.95],[0.267,0.7],[0.272,0.25],[0.276,0.05],[0.284,0.1],[0.295,0.2],[0.31,0.28],[0.33,0.32],[0.348,0.33],[0.351,0.6],[0.355,0.92],[0.359,0.95],[0.364,0.95],[0.368,0.7],[0.373,0.25],[0.377,0.05],[0.385,0.1],[0.395,0.2],[0.41,0.28],[0.43,0.32],[0.447,0.33],[0.45,0.6],[0.454,0.9],[0.458,0.93],[0.462,0.92],[0.466,0.7],[0.471,0.25],[0.476,0.1],[0.484,0.15],[0.49,0.2],[0.5,0.25]];
const T11=[[0,0.37],[0.025,0.34],[0.05,0.33],[0.055,0.2],[0.06,0.04],[0.064,0.02],[0.07,0.08],[0.08,0.22],[0.09,0.3],[0.105,0.33],[0.138,0.33],[0.143,0.1],[0.148,0.02],[0.158,0.02],[0.163,0.1],[0.168,0.5],[0.172,0.8],[0.176,0.85],[0.18,0.75],[0.187,0.55],[0.197,0.45],[0.21,0.41],[0.225,0.38],[0.24,0.36],[0.248,0.35],[0.252,0.1],[0.256,0.02],[0.266,0.02],[0.271,0.12],[0.276,0.55],[0.28,0.7],[0.284,0.72],[0.29,0.6],[0.298,0.48],[0.31,0.42],[0.325,0.39],[0.34,0.37],[0.349,0.36],[0.353,0.1],[0.357,0.02],[0.367,0.02],[0.372,0.15],[0.377,0.65],[0.381,0.85],[0.385,0.88],[0.389,0.75],[0.396,0.55],[0.407,0.45],[0.42,0.41],[0.435,0.38],[0.448,0.36],[0.452,0.1],[0.456,0.02],[0.466,0.02],[0.471,0.12],[0.476,0.5],[0.481,0.72],[0.485,0.78],[0.49,0.65],[0.5,0.5]];
const A11=[[0,0.33],[0.05,0.33],[0.056,0.2],[0.062,0.04],[0.067,0.02],[0.074,0.08],[0.082,0.18],[0.094,0.27],[0.11,0.32],[0.138,0.33],[0.143,0.15],[0.149,0.02],[0.158,0.02],[0.164,0.05],[0.169,0.04],[0.175,0.02],[0.183,0.08],[0.193,0.16],[0.205,0.24],[0.22,0.3],[0.235,0.32],[0.248,0.33],[0.252,0.15],[0.257,0.02],[0.266,0.02],[0.272,0.08],[0.277,0.06],[0.283,0.02],[0.291,0.08],[0.302,0.17],[0.315,0.25],[0.33,0.3],[0.349,0.33],[0.353,0.15],[0.358,0.01],[0.367,0.01],[0.373,0.06],[0.378,0.05],[0.384,0.01],[0.392,0.07],[0.403,0.16],[0.417,0.25],[0.432,0.3],[0.448,0.32],[0.452,0.15],[0.457,0.02],[0.466,0.02],[0.472,0.06],[0.477,0.05],[0.483,0.02],[0.49,0.1],[0.5,0.2]];

const seriesA = [A0,A1,A2,A3,A4,A5,A6,A7,A8,A9,A10,A11];
const seriesE = [E0,E1,E2,E3,E4,E5,E6,E7,E8,E9,E10,E11];
const seriesT = [T0,T1,T2,T3,T4,T5,T6,T7,T8,T9,T10,T11];

// ---------- layout & style ----------
const FONT = '"Liberation Sans", Arial, sans-serif';
const COL = {A:'#13286b', E:'#f4a16c', T:'#4c7c4e', L1:'#000000', L2:'#a3a3a3'};
const colLeft = [68, 355, 642, 929];
const rowTop = [41, 166, 292];
const PW = 250, PH = 75;
const TXT = '#1a1a1a';
const spine = {show:true, lineStyle:{color:'#262626', width:1}};
const tick = {show:true, length:3.5, inside:false, lineStyle:{color:'#262626', width:1}};
const dashDot = [6, 2, 1.2, 2];

const chart = echarts.init(document.getElementById('c'), null, {renderer:'canvas', width:1247, height:439});
const grids=[], xAxes=[], yAxes=[], series=[], graphics=[];
for (let p=0; p<12; p++) {
  const r = Math.floor(p/4), c = p%4;
  grids.push({left:colLeft[c], top:rowTop[r], width:PW, height:PH, containLabel:false});
  xAxes.push({gridIndex:p, type:'value', min:0, max:0.5, interval:0.25,
    axisLine:spine, axisTick:tick, splitLine:{show:false},
    axisLabel:{show:r===2, formatter:v=>v.toFixed(2), color:TXT, fontSize:15, fontFamily:FONT, margin:6},
    name: r===2 ? 'time (s)' : '', nameLocation:'middle', nameGap:26,
    nameTextStyle:{color:TXT, fontSize:14, fontFamily:FONT}});
  yAxes.push({gridIndex:p, type:'value', position:'left', min:0, max:1, interval:0.5,
    axisLine:spine, axisTick:tick, splitLine:{show:false},
    axisLabel:{show:c===0, formatter:v=>v.toFixed(1), color:TXT, fontSize:15, fontFamily:FONT, margin:7},
    name: c===0 ? 'softm. activation' : '', nameLocation:'middle', nameRotate:90, nameGap:49,
    nameTextStyle:{color:TXT, fontSize:14, fontFamily:FONT}});
  yAxes.push({gridIndex:p, type:'value', position:'right', min:0, max:1, interval:0.5,
    axisLine:spine, axisTick:tick, splitLine:{show:false},
    axisLabel:{show:c===3, formatter:v=>v.toFixed(1), color:TXT, fontSize:15, fontFamily:FONT, margin:7},
    name: c===3 ? 'α amplitude' : '', nameLocation:'middle', nameRotate:90, nameGap:50,
    nameTextStyle:{color:TXT, fontSize:14, fontFamily:FONT}});
  const base = {type:'line', xAxisIndex:p, symbol:'none', showSymbol:false, silent:true, clip:true, animation:false};
  series.push(Object.assign({}, base, {name:'A(t)', yAxisIndex:2*p, data:seriesA[p], smooth:0.35, smoothMonotone:'x', lineStyle:{color:COL.A, width:1.7}, itemStyle:{color:COL.A}, z:2}));
  series.push(Object.assign({}, base, {name:'E(t)', yAxisIndex:2*p, data:seriesE[p], smooth:0.35, smoothMonotone:'x', lineStyle:{color:COL.E, width:1.7}, itemStyle:{color:COL.E}, z:3}));
  series.push(Object.assign({}, base, {name:'T(t)', yAxisIndex:2*p, data:seriesT[p], smooth:0.35, smoothMonotone:'x', lineStyle:{color:COL.T, width:1.7}, itemStyle:{color:COL.T}, z:4}));
  series.push(Object.assign({}, base, {name:'L1', yAxisIndex:2*p+1, data:alphaT.map((t,i)=>[t, alphaV[i]]), smooth:0.5, lineStyle:{color:COL.L1, width:1, type:dashDot}, itemStyle:{color:COL.L1}, z:5}));
  series.push(Object.assign({}, base, {name:'L2', yAxisIndex:2*p+1, data:alphaT.map((t,i)=>[t+delayS[p], alphaV[i]]), smooth:0.5, lineStyle:{color:COL.L2, width:1, type:dashDot}, itemStyle:{color:COL.L2}, z:6}));
  graphics.push({type:'text', x:colLeft[c]+PW/2, y:rowTop[r]-20, silent:true,
    style:{text:titles[p], fontSize:15, fontFamily:FONT, fill:TXT, align:'center', verticalAlign:'middle'}});
}

chart.setOption({
  animation:false,
  backgroundColor:'#ffffff',
  grid:grids, xAxis:xAxes, yAxis:yAxes, series:series, graphic:graphics,
  legend:{
    data:['A(t)','E(t)','T(t)','L1','L2'],
    right:3, top:423, itemWidth:20, itemHeight:10, itemGap:14, padding:0,
    selectedMode:false,
    itemStyle:{opacity:0},
    formatter: n => n==='L1' ? 'α(t){s|L1}' : (n==='L2' ? 'α(t){s|L2}' : n),
    textStyle:{color:TXT, fontSize:15, fontFamily:FONT,
      rich:{s:{fontSize:10, fontFamily:FONT, color:TXT, padding:[0,0,10,0]}}}
  }
});
</script>
</body></html>
